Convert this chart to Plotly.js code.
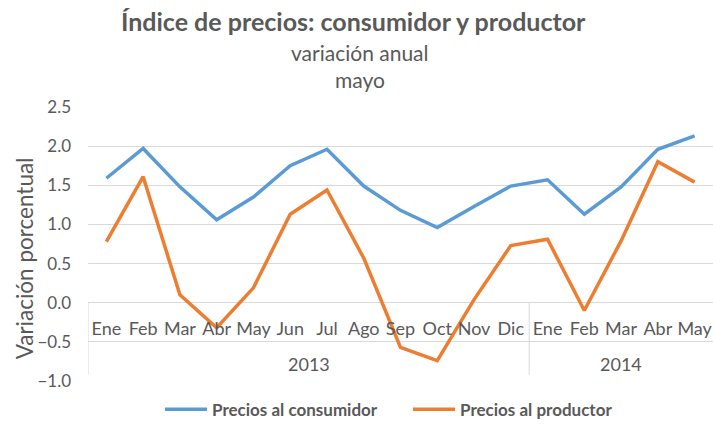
<!DOCTYPE html>
<html><head><meta charset="utf-8">
<script src="https://cdn.plot.ly/plotly-3.0.1.min.js"></script>
<style>body{margin:0;background:#fff}#c{width:713px;height:428px}</style>
</head><body><div id="c"></div>
<script>
const years = ['2013','2013','2013','2013','2013','2013','2013','2013','2013','2013','2013','2013','2014','2014','2014','2014','2014'];
const months = ['Ene','Feb','Mar','Abr','May','Jun','Jul','Ago','Sep','Oct','Nov','Dic','Ene','Feb','Mar','Abr','May'];
const consumidor = [1.59,1.97,1.48,1.06,1.35,1.75,1.96,1.49,1.18,0.96,1.23,1.49,1.57,1.13,1.48,1.96,2.13];
const productor = [0.78,1.61,0.10,-0.32,0.19,1.13,1.44,0.57,-0.57,-0.74,0.04,0.73,0.81,-0.10,0.79,1.80,1.54];
const titleText = 'Índice de precios: consumidor y productor';
const subtitle1 = 'variación anual';
const subtitle2 = 'mayo';
const yTitle = 'Variación porcentual';

const gray = '#595959';
const grid = '#d9d9d9';
const F = 'Lato, "Open Sans", sans-serif';
const idx = months.map((m, i) => i);

// year groups
const groups = [];
years.forEach((y, i) => {
  const g = groups[groups.length - 1];
  if (g && g.year === y) g.end = i; else groups.push({year: y, start: i, end: i});
});

const traces = [
  {x: idx, y: consumidor, type: 'scatter', mode: 'lines', name: 'Precios al consumidor',
   line: {color: '#5B9BD5', width: 3.5}},
  {x: idx, y: productor, type: 'scatter', mode: 'lines', name: 'Precios al productor',
   line: {color: '#ED7D31', width: 3.5}}
];

const px = v => (v - 88) / 625;   // pixel x -> paper
const py = v => (384 - v) / 277;  // pixel y -> paper

const annotations = [
  {text: '<b>' + titleText + '</b>', xref: 'paper', yref: 'paper', x: px(353), y: py(20),
   showarrow: false, xanchor: 'center', yanchor: 'middle', font: {size: 25, color: gray, family: F}},
  {text: subtitle1, xref: 'paper', yref: 'paper', x: px(360), y: py(52),
   showarrow: false, xanchor: 'center', yanchor: 'middle', font: {size: 21, color: gray, family: F}},
  {text: subtitle2, xref: 'paper', yref: 'paper', x: px(360), y: py(79),
   showarrow: false, xanchor: 'center', yanchor: 'middle', font: {size: 21, color: gray, family: F}},
  {text: yTitle, xref: 'paper', yref: 'paper', x: px(24), y: py(260), textangle: -90,
   showarrow: false, xanchor: 'center', yanchor: 'middle', font: {size: 22.5, color: gray, family: F}}
];
groups.forEach(g => annotations.push({
  text: g.year, xref: 'x', yref: 'y', x: (g.start + g.end) / 2, y: -0.78,
  showarrow: false, xanchor: 'center', yanchor: 'middle', font: {size: 18, color: gray, family: F}
}));

const shapes = groups.map(g => ({
  type: 'line', xref: 'x', yref: 'y', x0: g.start - 0.5, x1: g.start - 0.5, y0: 0, y1: -0.92,
  line: {color: grid, width: 1}
}));

const layout = {
  width: 713, height: 428,
  margin: {l: 88, r: 0, t: 107, b: 44},
  paper_bgcolor: '#fff', plot_bgcolor: '#fff',
  font: {family: F, color: gray},
  xaxis: {range: [-0.5, months.length - 0.5], anchor: 'free', position: 1 / 3.5,
          tickvals: idx, ticktext: months, showline: false, showgrid: false, zeroline: false,
          ticks: '', ticklabelstandoff: 13, tickfont: {size: 18, color: gray, family: F}},
  yaxis: {range: [-1, 2.5], dtick: 0.5, tickformat: '.1f', showgrid: true, gridcolor: grid, zeroline: false,
          tickfont: {size: 17, color: gray, family: F}, ticks: '', ticklabelstandoff: 16},
  legend: {orientation: 'h', x: px(160), xanchor: 'left', y: py(413), yanchor: 'middle',
           font: {size: 17, color: gray, family: F}, itemwidth: 42, entrywidth: 191, entrywidthmode: 'pixels'},
  annotations: annotations,
  shapes: shapes,
  showlegend: true
};
Plotly.newPlot('c', traces, layout, {displayModeBar: false}).then(() => {
  document.querySelectorAll('.legendtext').forEach(t => t.style.fontWeight = 'bold');
});
</script></body></html>
